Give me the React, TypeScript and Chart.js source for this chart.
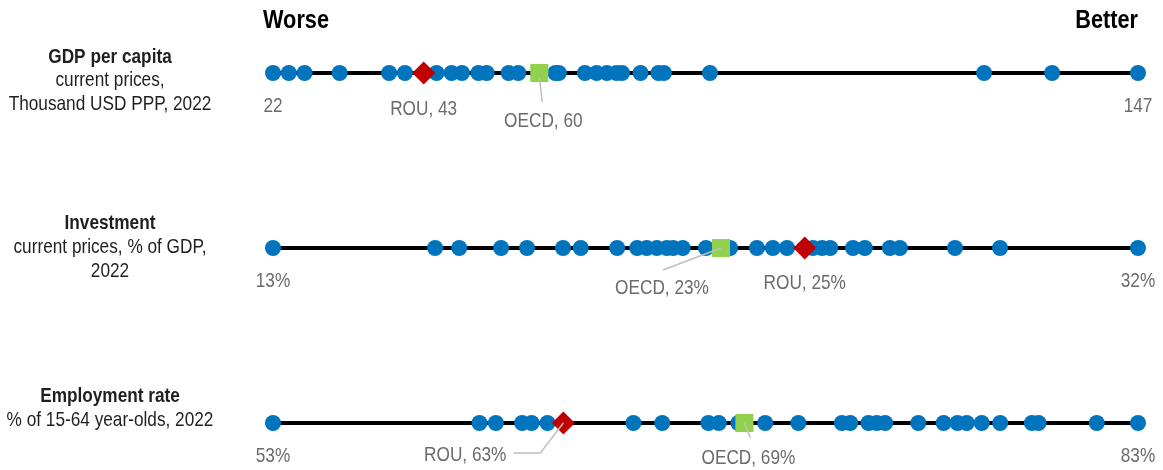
import React, { useEffect, useRef } from "react";
import { Chart, registerables } from "chart.js";

Chart.register(...registerables);

// ---------- DATA ----------
const headerLabels = ["Worse", "Better"];

const rowTitles: string[][] = [
  ["GDP per capita", "current prices,", "Thousand USD PPP, 2022"],
  ["Investment", "current prices, % of GDP,", "2022"],
  ["Employment rate", "% of 15-64 year-olds, 2022"],
];

const unitSuffix = ["", "%", "%"];

// Countries (blue dots)
const gdpPerCapita = [
  21.5, 23.8, 26.1, 31.2, 38.4, 40.7, 45.3, 47.5, 49.0, 51.4, 52.6, 55.8, 57.2,
  62.6, 63.1, 66.9, 68.6, 70.1, 71.5, 72.3, 75.0, 77.6, 78.4, 85.1, 125.0,
  134.9, 147.4,
];
const gdpROU = 43.43;
const gdpOECD = 60.26;

const investment = [
  13.0, 16.56, 17.09, 18.01, 18.58, 19.37, 19.76, 20.56, 21.0, 21.21, 21.43,
  21.65, 21.79, 22.0, 22.51, 23.04, 23.63, 23.98, 24.29, 24.86, 25.06, 25.24,
  25.74, 26.0, 26.55, 26.77, 27.98, 28.97, 32.0,
];
const investmentROU = 24.68;
const investmentOECD = 22.84;

const employment = [
  53.0, 60.16, 60.73, 61.64, 61.97, 62.52, 65.5, 66.5, 68.1, 68.46, 69.14,
  70.07, 71.22, 72.73, 73.02, 73.65, 73.94, 74.23, 75.38, 76.26, 76.74, 77.06,
  77.58, 78.22, 79.32, 79.55, 81.57, 83.0,
];
const employmentROU = 63.07;
const employmentOECD = 69.35;

const rowValues = [gdpPerCapita, investment, employment];
const rowROU = [gdpROU, investmentROU, employmentROU];
const rowOECD = [gdpOECD, investmentOECD, employmentOECD];

// ---------- STYLE / LAYOUT ----------
const FONT = '"Liberation Sans", Arial, sans-serif';
const NARROW = 0.82; // emulate Arial Narrow
const DOT = "#0174BE";
const ROU_COLOR = "#C00000";
const OECD_COLOR = "#92D050";
const LABEL_GRAY = "#6b6b6b";
const TITLE_COLOR = "#1f1f1f";
const LEADER = "#BFBFBF";

// title baselines relative to each row line
const titleBaselineOffsets = [
  [-10.5, 13, 37],
  [-19, 5.3, 28.7],
  [-21.3, 2.7],
];

type LabelLayout = {
  leader: [number, number][];
  tx: number;
  ty: number;
  align: CanvasTextAlign;
};
const rouLayout: LabelLayout[] = [
  { leader: [], tx: 0, ty: 42, align: "center" },
  { leader: [], tx: 0, ty: 41, align: "center" },
  { leader: [[0, 0], [-23, 30], [-50, 30]], tx: -57, ty: 38, align: "right" },
];
const oecdLayout: LabelLayout[] = [
  { leader: [[0, 4], [3, 29]], tx: 4, ty: 53.5, align: "center" },
  { leader: [[0, 0], [-58, 22]], tx: -59, ty: 46, align: "center" },
  { leader: [[0, 0], [6, 15]], tx: 4, ty: 41, align: "center" },
];

function narrowText(
  ctx: CanvasRenderingContext2D,
  text: string,
  x: number,
  y: number,
  align: CanvasTextAlign
) {
  ctx.save();
  ctx.translate(x, y);
  ctx.scale(NARROW, 1);
  ctx.textAlign = align;
  ctx.textBaseline = "alphabetic";
  ctx.fillText(text, 0, 0);
  ctx.restore();
}

const stripPlugin = {
  id: "stripAnnotations",
  afterDraw(chart: any) {
    const ctx: CanvasRenderingContext2D = chart.ctx;
    const yScale = chart.scales.y;
    const area = chart.chartArea;
    ctx.save();

    // header
    ctx.fillStyle = "#000";
    ctx.font = `bold 26.5px ${FONT}`;
    narrowText(ctx, headerLabels[0], area.left - 10, 27.5, "left");
    narrowText(ctx, headerLabels[1], area.right, 27.5, "right");

    for (let r = 0; r < 3; r++) {
      const xs = chart.scales[`x${r}`];
      const y = yScale.getPixelForValue(r);
      const vals = rowValues[r];
      const mn = Math.min(...vals);
      const mx = Math.max(...vals);

      // row titles
      ctx.fillStyle = TITLE_COLOR;
      rowTitles[r].forEach((t, i) => {
        ctx.font = `${i === 0 ? "bold " : ""}21px ${FONT}`;
        narrowText(ctx, t, 110, y + titleBaselineOffsets[r][i], "center");
      });

      // end labels
      ctx.fillStyle = LABEL_GRAY;
      ctx.font = `21px ${FONT}`;
      narrowText(ctx, `${Math.round(mn)}${unitSuffix[r]}`, xs.getPixelForValue(mn), y + 39, "center");
      narrowText(ctx, `${Math.round(mx)}${unitSuffix[r]}`, xs.getPixelForValue(mx), y + 39, "center");

      // ROU / OECD labels
      const items: [string, number, LabelLayout][] = [
        ["ROU", rowROU[r], rouLayout[r]],
        ["OECD", rowOECD[r], oecdLayout[r]],
      ];
      for (const [name, v, lay] of items) {
        const px = xs.getPixelForValue(v);
        if (lay.leader.length > 1) {
          ctx.strokeStyle = LEADER;
          ctx.lineWidth = 1.5;
          ctx.beginPath();
          lay.leader.forEach(([dx, dy], i) => {
            if (i === 0) ctx.moveTo(px + dx, y + dy);
            else ctx.lineTo(px + dx, y + dy);
          });
          ctx.stroke();
        }
        ctx.fillStyle = LABEL_GRAY;
        ctx.font = `21px ${FONT}`;
        narrowText(ctx, `${name}, ${Math.round(v)}${unitSuffix[r]}`, px + lay.tx, y + lay.ty, lay.align);
      }
    }
    ctx.restore();
  },
};

export default function App() {
  const canvasRef = useRef<HTMLCanvasElement | null>(null);

  useEffect(() => {
    if (!canvasRef.current) return;
    const datasets: any[] = [];
    const scales: any = {
      y: { type: "linear", min: 0, max: 2, reverse: true, display: false },
    };
    for (let r = 0; r < 3; r++) {
      const vals = rowValues[r];
      const mn = Math.min(...vals);
      const mx = Math.max(...vals);
      scales[`x${r}`] = {
        type: "linear",
        position: "bottom",
        min: mn,
        max: mx,
        display: false,
      };
      datasets.push({
        type: "line",
        data: [
          { x: mn, y: r },
          { x: mx, y: r },
        ],
        xAxisID: `x${r}`,
        yAxisID: "y",
        borderColor: "#000",
        borderWidth: 4,
        pointRadius: 0,
        order: 10,
        clip: false,
      });
      datasets.push({
        type: "scatter",
        data: vals.map((v) => ({ x: v, y: r })),
        xAxisID: `x${r}`,
        yAxisID: "y",
        backgroundColor: DOT,
        borderWidth: 0,
        pointRadius: 8,
        order: 5,
        clip: false,
      });
      datasets.push({
        type: "scatter",
        data: [{ x: rowOECD[r], y: r }],
        xAxisID: `x${r}`,
        yAxisID: "y",
        backgroundColor: OECD_COLOR,
        borderWidth: 0,
        pointStyle: "rect",
        pointRadius: 12.8,
        order: 2,
        clip: false,
      });
      datasets.push({
        type: "scatter",
        data: [{ x: rowROU[r], y: r }],
        xAxisID: `x${r}`,
        yAxisID: "y",
        backgroundColor: ROU_COLOR,
        borderWidth: 0,
        pointStyle: "rectRot",
        pointRadius: 11.5,
        order: 1,
        clip: false,
      });
    }

    const chart = new Chart(canvasRef.current, {
      type: "scatter",
      data: { datasets },
      options: {
        animation: false,
        responsive: false,
        events: [],
        layout: { padding: { left: 273, right: 25, top: 73, bottom: 47 } },
        scales,
        plugins: {
          legend: { display: false },
          tooltip: { enabled: false },
        },
      },
      plugins: [stripPlugin],
    } as any);
    return () => chart.destroy();
  }, []);

  return (
    <div style={{ position: "fixed", left: 0, top: 0, width: 1163, height: 470, background: "#fff" }}>
      <canvas ref={canvasRef} width={1163} height={470} style={{ width: 1163, height: 470 }} />
    </div>
  );
}
